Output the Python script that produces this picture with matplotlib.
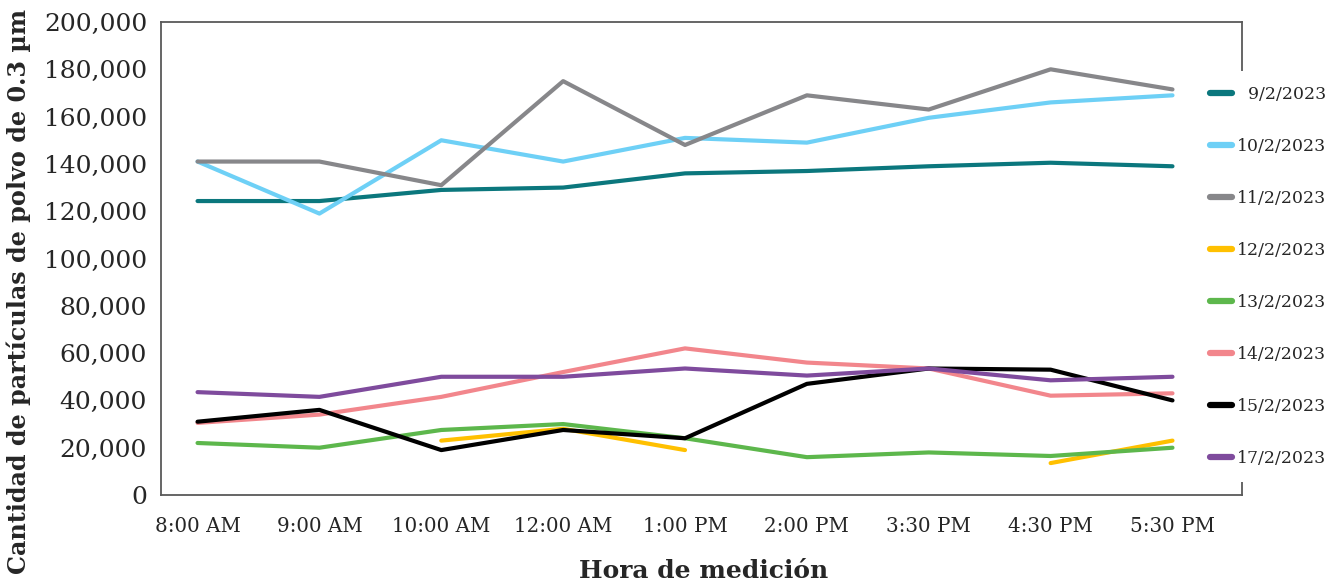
import numpy as np
import matplotlib

matplotlib.use("Agg")
import matplotlib.pyplot as plt

horas = ["8:00 AM", "9:00 AM", "10:00 AM", "12:00 AM", "1:00 PM",
         "2:00 PM", "3:30 PM", "4:30 PM", "5:30 PM"]

d_09_02 = [124300, 124300, 129000, 130000, 136000, 137000, 139000, 140500, 139000]
d_10_02 = [141000, 119000, 150000, 141000, 151000, 149000, 159500, 166000, 169000]
d_11_02 = [141000, 141000, 131000, 175000, 148000, 169000, 163000, 180000, 171500]
d_12_02 = [np.nan, np.nan, 23000, 28000, 19000, np.nan, np.nan, 13500, 23000]
d_13_02 = [22000, 20000, 27500, 30000, 24000, 16000, 18000, 16500, 20000]
d_14_02 = [30500, 34000, 41500, 52000, 62000, 56000, 53500, 42000, 43000]
d_15_02 = [31000, 36000, 19000, 27500, 24000, 47000, 53500, 53000, 40000]
d_17_02 = [43500, 41500, 50000, 50000, 53500, 50500, 53500, 48500, 50000]

series = [
    ("  9/2/2023", d_09_02, "#0B777D"),
    ("10/2/2023", d_10_02, "#6ED0F6"),
    ("11/2/2023", d_11_02, "#87878A"),
    ("12/2/2023", d_12_02, "#FFC000"),
    ("13/2/2023", d_13_02, "#5DB74C"),
    ("14/2/2023", d_14_02, "#F2868C"),
    ("15/2/2023", d_15_02, "#000000"),
    ("17/2/2023", d_17_02, "#7F4B9D"),
]

plt.rcParams["font.family"] = ["DejaVu Serif"]

fig = plt.figure(figsize=(13.36, 5.87), dpi=100)
ax = fig.add_axes([0.1205, 0.1567, 0.8091, 0.8058])

x = np.arange(len(horas))
for label, vals, color in series:
    ax.plot(x, vals, color=color, lw=3.0, label=label, solid_capstyle="round")

ax.set_xlim(-0.3, 8.57)
ax.set_ylim(0, 200000)
ax.set_yticks(np.arange(0, 200001, 20000))
ax.set_yticklabels([f"{v:,}" for v in range(0, 200001, 20000)], fontsize=18,
                   color="#262626")
ax.set_xticks(x)
ax.set_xticklabels(horas, fontsize=14.3, color="#262626")
ax.tick_params(axis="y", length=0, pad=10)
ax.tick_params(axis="x", length=0, pad=16)
for sp in ax.spines.values():
    sp.set_color("#595959")
    sp.set_linewidth(1.3)

ax.set_xlabel("Hora de medición", fontsize=18, fontweight="bold",
              color="#262626")
ax.xaxis.set_label_coords(0.502, -0.135)
ax.xaxis.label.set_va("top")
ax.set_ylabel("Cantidad de partículas de polvo de 0.3 µm", fontsize=17.2,
              fontweight="bold", color="#262626")
ax.yaxis.set_label_coords(-0.12, 0.43)

leg = fig.legend(loc="center left", bbox_to_anchor=(0.888, 0.529),
                 fontsize=12.4, frameon=True, facecolor="white", edgecolor="none",
                 framealpha=1, fancybox=False, labelspacing=2.03,
                 handlelength=1.25, handletextpad=0.3, borderpad=0.9)
for h in leg.get_lines():
    h.set_linewidth(4.5)
for t in leg.get_texts():
    t.set_color("#262626")

fig.savefig("out.png", dpi=100)
plt.close(fig)
